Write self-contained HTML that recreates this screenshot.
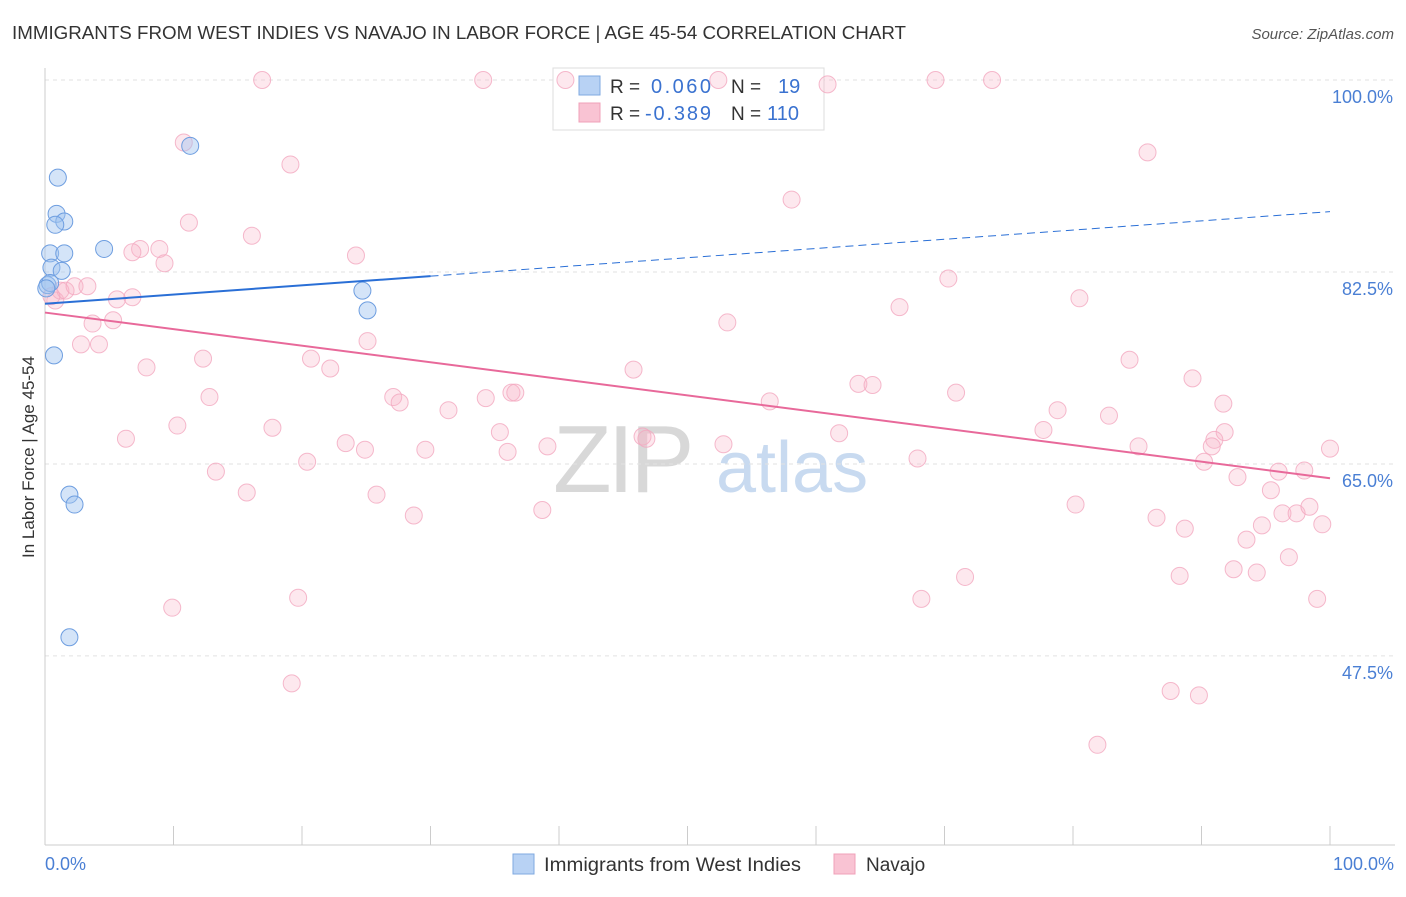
<!DOCTYPE html>
<html><head><meta charset="utf-8">
<style>
body{margin:0;background:#fff;font-family:"Liberation Sans",sans-serif;}
svg text{font-family:"Liberation Sans",sans-serif;}
</style></head>
<body>
<svg id="chart" width="1406" height="892" xmlns="http://www.w3.org/2000/svg">
<text x="12" y="39" font-size="18" fill="#333" textLength="894" lengthAdjust="spacingAndGlyphs">IMMIGRANTS FROM WEST INDIES VS NAVAJO IN LABOR FORCE | AGE 45-54 CORRELATION CHART</text>
<text x="1394" y="39" font-size="15" fill="#555" text-anchor="end" font-style="italic">Source: ZipAtlas.com</text>
<g>
<text x="553" y="492" font-size="96" fill="#d8d8d8" font-family="Liberation Serif" letter-spacing="-4">ZIP</text>
<text x="716" y="492" font-size="72" fill="#c8daf0">atlas</text>
</g>
<g id="grid"></g>
<g id="axes"></g>
<g>
<rect x="553" y="68" width="271" height="62" fill="#fff" stroke="#ddd"/>
<rect x="579" y="76" width="21" height="19" fill="#b8d2f4" stroke="#7fa9e0"/>
<rect x="579" y="103" width="21" height="19" fill="#f9c3d3" stroke="#f0a0b8"/>
<text x="610" y="93" font-size="19" fill="#333">R =</text>
<text x="651" y="93" font-size="20" fill="#3a72d0" textLength="60">0.060</text>
<text x="731" y="93" font-size="19" fill="#333">N =</text>
<text x="778" y="93" font-size="20" fill="#3a72d0">19</text>
<text x="610" y="120" font-size="19" fill="#333">R =</text>
<text x="645" y="120" font-size="20" fill="#3a72d0" textLength="66">-0.389</text>
<text x="731" y="120" font-size="19" fill="#333">N =</text>
<text x="767" y="120" font-size="20" fill="#3a72d0" textLength="32">110</text>
</g>
<g id="pts"></g>
<g id="trends"></g>
<text transform="translate(34,457) rotate(-90)" font-size="17" fill="#333" text-anchor="middle">In Labor Force | Age 45-54</text>
<text x="45" y="870" font-size="18" fill="#4a7fd4">0.0%</text>
<text x="1394" y="870" font-size="18" fill="#4a7fd4" text-anchor="end">100.0%</text>
<g>
<rect x="513" y="854" width="21" height="20" fill="#b8d2f4" stroke="#7fa9e0"/>
<text x="544" y="871" font-size="19" fill="#333" textLength="257" lengthAdjust="spacingAndGlyphs">Immigrants from West Indies</text>
<rect x="834" y="854" width="21" height="20" fill="#f9c3d3" stroke="#f0a0b8"/>
<text x="866" y="871" font-size="19" fill="#333">Navajo</text>
</g>
</svg>
<script>
const yTicks=[100,82.5,65,47.5];
const yTickLabels=["100.0%","82.5%","65.0%","47.5%"];
const blueX=[1.0,0.9,1.5,0.8,0.4,1.5,4.6,11.3,0.5,1.3,0.2,0.4,0.7,1.9,2.3,1.9,24.7,25.1,0.1];
const blueY=[91.1,87.8,87.1,86.8,84.2,84.2,84.6,94.0,82.9,82.6,81.3,81.5,74.9,62.2,61.3,49.2,80.8,79.0,81.0];
const pinkX=[16.9,34.1,40.5,52.4,60.9,69.3,73.7,10.8,19.1,85.8,58.1,11.2,16.1,7.4,8.9,6.8,9.3,24.2,0.8,1.2,1.6,2.3,3.3,0.5,5.6,6.8,70.3,80.5,66.5,3.7,5.3,53.1,2.8,4.2,25.1,12.3,7.9,20.7,22.2,84.4,45.8,89.3,63.3,64.4,70.9,12.8,27.1,27.6,34.3,36.3,36.6,56.4,31.4,78.8,82.8,91.7,10.3,17.7,35.4,23.4,24.9,29.6,36.0,39.1,6.3,46.5,46.8,52.8,61.8,77.7,85.1,91.8,91.0,90.8,100,13.3,20.4,67.9,90.2,96.0,98.0,92.8,15.7,25.8,95.4,80.2,28.7,38.7,86.5,96.3,97.4,98.4,88.7,94.7,93.5,99.4,96.8,92.5,94.3,71.6,88.3,9.9,19.7,68.2,99.0,19.2,87.6,89.8,81.9];
const pinkY=[100,100,100,100,99.6,100,100,94.3,92.3,93.4,89.1,87.0,85.8,84.6,84.6,84.3,83.3,84.0,79.9,80.8,80.8,81.2,81.2,80.3,80.0,80.2,81.9,80.1,79.3,77.8,78.1,77.9,75.9,75.9,76.2,74.6,73.8,74.6,73.7,74.5,73.6,72.8,72.3,72.2,71.5,71.1,71.1,70.6,71.0,71.5,71.5,70.7,69.9,69.9,69.4,70.5,68.5,68.3,67.9,66.9,66.3,66.3,66.1,66.6,67.3,67.5,67.3,66.8,67.8,68.1,66.6,67.9,67.2,66.6,66.4,64.3,65.2,65.5,65.2,64.3,64.4,63.8,62.4,62.2,62.6,61.3,60.3,60.8,60.1,60.5,60.5,61.1,59.1,59.4,58.1,59.5,56.5,55.4,55.1,54.7,54.8,51.9,52.8,52.7,52.7,45.0,44.3,43.9,39.4];
const blueTrend=[79.6,88.0];
const pinkTrend=[78.8,63.7];
const NS="http://www.w3.org/2000/svg";
const X=v=>45+v*12.85;
const Y=v=>80+(100-v)*10.97;
function mk(tag,attrs,parent){const e=document.createElementNS(NS,tag);for(const k in attrs)e.setAttribute(k,attrs[k]);parent.appendChild(e);return e;}
const grid=document.getElementById('grid'),axes=document.getElementById('axes'),pts=document.getElementById('pts'),tr=document.getElementById('trends');
yTicks.forEach((t,i)=>{
 const l=mk('line',{x1:45,x2:1395,y1:Y(t),y2:Y(t),stroke:'#e2e2e2','stroke-dasharray':'4,4'},grid);
 
 
 const tx=mk('text',{x:1393,y:Y(t)+23,'font-size':18,fill:'#4a7fd4','text-anchor':'end'},grid);
 tx.textContent=yTickLabels[i];
 
 
});
const ax=mk('line',{x1:45,x2:45,y1:68,y2:845,stroke:'#ccc'},axes);


const bx=mk('line',{x1:45,x2:1395,y1:845,y2:845,stroke:'#ccc'},axes);


for(let i=1;i<=10;i++){
 const t=mk('line',{x1:X(i*10),x2:X(i*10),y1:826,y2:845,stroke:'#ccc'},axes);
 
 
}
pinkX.forEach((v,i)=>{
 const c=mk('circle',{cx:X(v),cy:Y(pinkY[i]),r:8.5,fill:'rgba(248,180,200,0.3)',stroke:'#f2a8bf','stroke-width':1,'stroke-opacity':0.8},pts);
 
 
});
blueX.forEach((v,i)=>{
 const c=mk('circle',{cx:X(v),cy:Y(blueY[i]),r:8.5,fill:'rgba(160,196,240,0.45)',stroke:'#6e9ee0','stroke-width':1},pts);
 
 
});
const by=v=>blueTrend[0]+(blueTrend[1]-blueTrend[0])*v/100;
const b1=mk('line',{x1:X(0),y1:Y(by(0)),x2:X(30),y2:Y(by(30)),stroke:'#2a6fd6','stroke-width':2},tr);


const b2=mk('line',{x1:X(30),y1:Y(by(30)),x2:X(100),y2:Y(by(100)),stroke:'#2a6fd6','stroke-width':1,'stroke-dasharray':'8,5'},tr);


const p1=mk('line',{x1:X(0),y1:Y(pinkTrend[0]),x2:X(100),y2:Y(pinkTrend[1]),stroke:'#e8699a','stroke-width':2},tr);


</script>
</body></html>
